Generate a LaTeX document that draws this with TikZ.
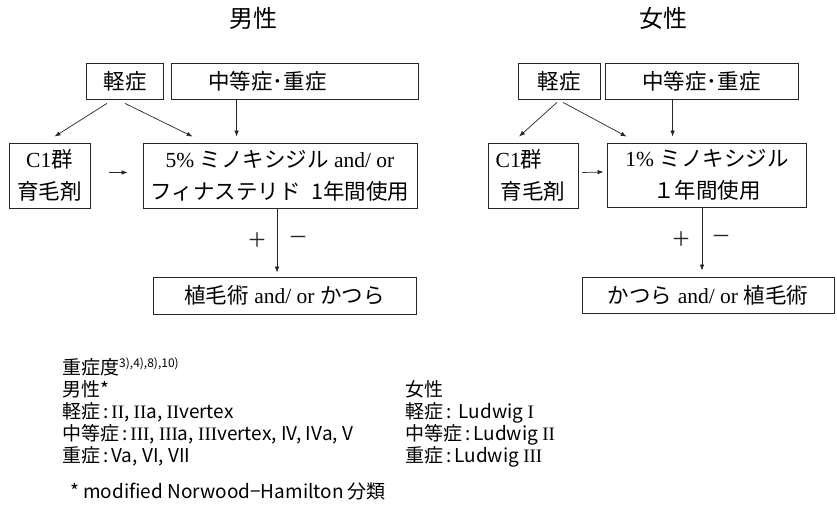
\documentclass[tikz,border=0pt]{standalone}
\usepackage{fontspec}
\setmainfont{Liberation Serif}
\newfontfamily\jp{Noto Sans CJK JP}
\usetikzlibrary{arrows.meta}
\newcommand\rn[1]{{\rmfamily #1}}
\newcommand\sevsep{\hspace{3pt}:\hspace{3pt}}

\tikzset{
  box/.style={draw=black!85, line width=0.8pt, inner sep=0pt, align=center,
    font=\fontsize{21.5}{32}\selectfont},
  title/.style={inner sep=0pt, font=\jp\fontsize{24}{24}\selectfont},
  sign/.style={inner sep=0pt, font=\jp\fontsize{20}{20}\selectfont},
  legend/.style={inner sep=0pt, align=left, anchor=north west,
    font=\jp\fontsize{19}{22}\selectfont},
  flow/.style={->, line width=0.7pt, black!85},
}

\begin{document}
\begin{tikzpicture}[x=1pt,y=-1pt,>={Latex[length=6pt,width=4.5pt]}]
\useasboundingbox (0,0) rectangle (837,518);
% male
\node[title] (mtitle) at (253,18) {男性};
\node[box,minimum width=77pt,minimum height=36pt] (mlight) at (125,81) {\jp 軽症};
\node[box,minimum width=247pt,minimum height=36pt] (mmod) at (294.5,81) {\jp 中等症･重症\hspace*{54pt}};
\node[box,minimum width=81pt,minimum height=65pt] (mc1) at (49.5,175.5) {C1{\jp 群}\\{\jp 育毛剤}};
\node[box,minimum width=274pt,minimum height=65pt] (mbig) at (280,175.5)
  {5\% {\jp ミノキシジル} and/ or\\{\jp フィナステリド\hspace{0.5em}1年間使用}};
\node[box,minimum width=263pt,minimum height=37pt] (mres) at (284.5,295.5)
  {{\jp 植毛術} and/ or {\jp かつら}};
\draw[flow] ([xshift=-18pt,yshift=-4pt]mlight.south) -- ([xshift=5pt,yshift=6pt]mc1.north);
\draw[flow] ([yshift=-4pt]mlight.south) -- ([xshift=50pt,yshift=6pt]mbig.north west);
\draw[flow] ([xshift=66pt]mmod.south west) -- ([xshift=94pt,yshift=6pt]mbig.north west);
\draw[flow] ([xshift=19pt,yshift=3pt]mc1.east) -- ([xshift=-15pt,yshift=3pt]mbig.west);
\draw[flow] ([xshift=-3pt]mbig.south) -- ([xshift=-3pt,yshift=4pt]mbig.south |- mres.north)
  node[sign,midway,left=9pt] (mplus) {＋}
  node[sign,midway,right=11pt] (mminus) {－};
% female
\node[title] (ftitle) at (663.5,18) {女性};
\node[box,minimum width=82pt,minimum height=36pt] (flight) at (559,81) {\jp 軽症};
\node[box,minimum width=193pt,minimum height=36pt] (fmod) at (701.5,81) {\jp 中等症･重症};
\node[box,minimum width=90pt,minimum height=65pt] (fc1) at (533,175.5) {C1{\jp 群}\hspace*{28pt}\\{\jp 育毛剤}};
\node[box,minimum width=199pt,minimum height=64pt] (fbig) at (707,175)
  {1\% {\jp ミノキシジル}\\{\jp １年間使用}};
\node[box,minimum width=252pt,minimum height=36pt] (fres) at (708,295)
  {{\jp かつら} and/ or {\jp 植毛術}};
\draw[flow] ([xshift=-2pt,yshift=-3pt]flight.south) -- ([xshift=-14pt,yshift=6pt]fc1.north);
\draw[flow] ([xshift=4pt,yshift=-3pt]flight.south) -- ([xshift=19.5pt,yshift=6pt]fbig.north west);
\draw[flow] ([xshift=68pt]fmod.south west) -- ([xshift=65.5pt,yshift=6pt]fbig.north west);
\draw[flow] ([xshift=4pt,yshift=3pt]fc1.east) -- ([xshift=-3.5pt,yshift=3pt]fbig.west);
\draw[flow] ([xshift=-5pt]fbig.south) -- ([xshift=-5pt,yshift=6pt]fbig.south |- fres.north)
  node[sign,midway,left=10pt] (fplus) {＋}
  node[sign,midway,right=9pt] (fminus) {－};
% severity
\node[legend] (msev) at (62,357) {重症度\raisebox{7pt}{\fontsize{12}{12}\selectfont 3),4),8),10)}\\
  男性*\\
  軽症\sevsep\rn{II}, \rn{II}a, \rn{II}vertex\\
  中等症\sevsep\rn{III}, \rn{III}a, \rn{III}vertex, IV, IVa, V\\
  重症\sevsep Va, VI, VII};
\node[legend] (fsev) at (405,380) {女性\\
  軽症\sevsep\ Ludwig \rn{I}\\
  中等症\sevsep Ludwig \rn{II}\\
  重症\sevsep Ludwig \rn{III}};
\node[legend] (note) at (70,483) {* modified Norwood−Hamilton 分類};
\end{tikzpicture}
\end{document}
